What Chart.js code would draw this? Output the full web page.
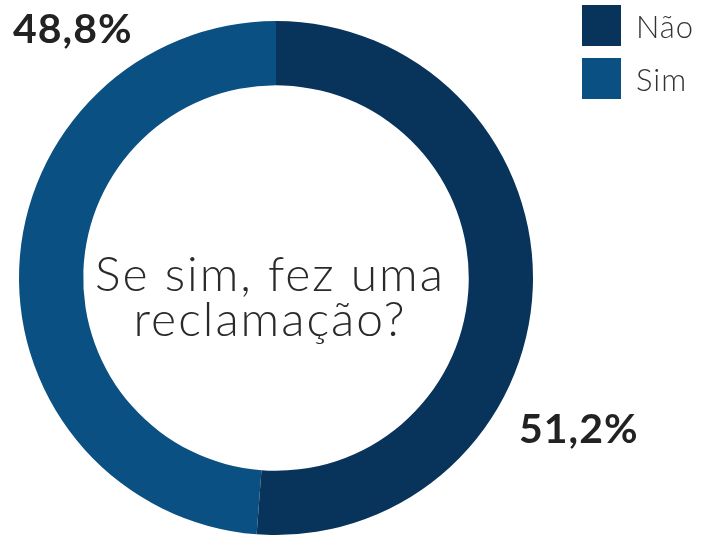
<!DOCTYPE html>
<html>
<head>
<meta charset="utf-8">
<script src="https://cdn.jsdelivr.net/npm/chart.js@4"></script>
<style>
  html, body { margin: 0; padding: 0; background: #fff; }
  #wrap { width: 707px; height: 540px; }
</style>
</head>
<body>
<div id="wrap"><canvas id="reclamacaoChart" width="707" height="540"></canvas></div>
<script>
const labels = ['Não', 'Sim'];
const values = [51.2, 48.8];
const colors = ['#08335a', '#0b5082'];
const centerLines = ['Se sim, fez uma', 'reclamação?'];

const fmt = v => v.toFixed(1).replace('.', ',') + '%';

// percentage labels, centre question and legend, drawn on top of the ring
const extras = {
  id: 'extras',
  afterDraw(chart) {
    const c = chart.ctx;
    const arc = chart.getDatasetMeta(0).data[0];
    const cx = arc.x, cy = arc.y;
    c.save();

    c.fillStyle = '#222';
    c.textBaseline = 'alphabetic';
    c.font = 'bold 41px Lato';
    c.textAlign = 'left';
    c.letterSpacing = '1px';
    c.fillText(fmt(values[1]), 13, 43);
    c.fillText(fmt(values[0]), 519, 443);

    c.fillStyle = '#2a2a2a';
    c.font = '300 48px Lato';
    c.letterSpacing = '2px';
    c.textAlign = 'center';
    c.fillText(centerLines[0], cx - 6, cy + 13);
    c.fillText(centerLines[1], cx - 6, cy + 58);

    c.textAlign = 'left';
    c.letterSpacing = '1px';
    c.font = '300 31px Lato';
    labels.forEach((lab, i) => {
      const y = 5 + i * 53;
      c.fillStyle = colors[i];
      c.fillRect(582, y, 39, 41);
      c.fillStyle = '#333';
      c.fillText(lab, 636, y + 33);
    });
    c.restore();
  }
};

new Chart(document.getElementById('reclamacaoChart'), {
  type: 'doughnut',
  data: {
    labels: labels,
    datasets: [{
      data: values,
      backgroundColor: colors,
      borderWidth: 0,
    }],
  },
  options: {
    responsive: false,
    animation: false,
    cutout: '75%',
    layout: { padding: { left: 19, right: 174, top: 21, bottom: 5 } },
    plugins: {
      legend: { display: false },
      tooltip: { enabled: false },
    },
  },
  plugins: [extras],
});
</script>
</body>
</html>
